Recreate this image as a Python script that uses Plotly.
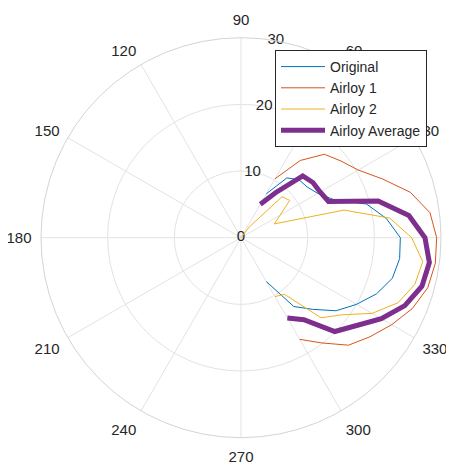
import plotly.graph_objects as go

theta = [-60, -52.5, -45, -37.5, -30, -22.5, -15, -7.5, 0, 7.5, 15, 22.5, 30, 37.5, 45, 52.5, 60]

original = [7.6, 13.0, 15.2, 18.0, 20.0, 22.0, 23.5, 24.0, 23.9, 22.0, 19.5, 15.0, 13.3, 12.5, 12.3, 11.3, 7.6]
airloy1 = [17.6, 19.9, 22.8, 24.4, 26.1, 27.8, 29.0, 29.4, 29.35, 28.6, 26.3, 23.0, 20.3, 18.9, 17.7, 14.6, 10.2]
airloy2 = [10.2, 10.7, 17.0, 19.0, 22.7, 25.5, 27.0, 27.5, 25.6, 22.5, 16.0, 5.4, 6.8, 9.2, 8.7, 2.0, 0.0]
airloy_avg = [13.9, 15.5, 19.9, 21.7, 24.3, 26.6, 28.1, 28.5, 27.6, 25.4, 21.3, 14.2, 13.7, 13.6, 13.1, 8.5, 5.8]

series_names = ["Original", "Airloy 1", "Airloy 2", "Airloy Average"]
series_values = [original, airloy1, airloy2, airloy_avg]
colors = ["#0072BD", "#D95319", "#EDB120", "#7E2F8E"]
widths = [1, 1, 1, 5]

angle_ticks = list(range(0, 360, 30))
radial_ticks = [0, 10, 20, 30]
radial_label_angle = 80

# page body has an 8px default margin; compensate so the chart lands in place
OFF = 8

fig = go.Figure()
# radial tick labels, centred on the 80-degree spoke (MATLAB style)
fig.add_trace(go.Scatterpolar(r=radial_ticks, theta=[radial_label_angle] * len(radial_ticks),
                              mode="text", text=[str(v) for v in radial_ticks],
                              textposition="middle center",
                              textfont=dict(size=15, color="#262626",
                                            family="Liberation Sans, Arial, sans-serif"),
                              showlegend=False, hoverinfo="skip"))
for name, vals, c, w in zip(series_names, series_values, colors, widths):
    fig.add_trace(go.Scatterpolar(r=vals, theta=theta, mode="lines", name=name,
                                  line=dict(color=c, width=w)))

font_family = "Liberation Sans, Arial, sans-serif"
W, H = 454, 462
fig.update_layout(
    width=W, height=H,
    margin=dict(l=0, r=0, t=0, b=0, autoexpand=False),
    paper_bgcolor="white",
    font=dict(family=font_family, size=15, color="#262626"),
    showlegend=True,
    legend=dict(x=(275 - OFF) / W, y=1 - (50 - OFF) / H, xanchor="left", yanchor="top",
                bgcolor="white", bordercolor="#262626", borderwidth=1,
                font=dict(size=14, color="#262626"), itemwidth=44,
                tracegroupgap=0),
    polar=dict(
        domain=dict(x=[(41 - OFF) / W, (441 - OFF) / W],
                    y=[1 - (437.7 - OFF) / H, 1 - (37.7 - OFF) / H]),
        bgcolor="white",
        angularaxis=dict(direction="counterclockwise", rotation=0,
                         tickmode="array", tickvals=angle_ticks,
                         ticktext=[str(a) for a in angle_ticks],
                         showline=True, linecolor="#d4d4d4", linewidth=1,
                         gridcolor="#e3e3e3", gridwidth=1,
                         ticks="outside", ticklen=6, tickcolor="rgba(0,0,0,0)",
                         tickfont=dict(size=15, color="#262626")),
        radialaxis=dict(range=[0, 30], tickmode="array", tickvals=radial_ticks,
                        showticklabels=False,
                        angle=radial_label_angle, showline=False, ticks="",
                        gridcolor="#e3e3e3", gridwidth=1),
    ),
)

fig.write_html("out.html")
